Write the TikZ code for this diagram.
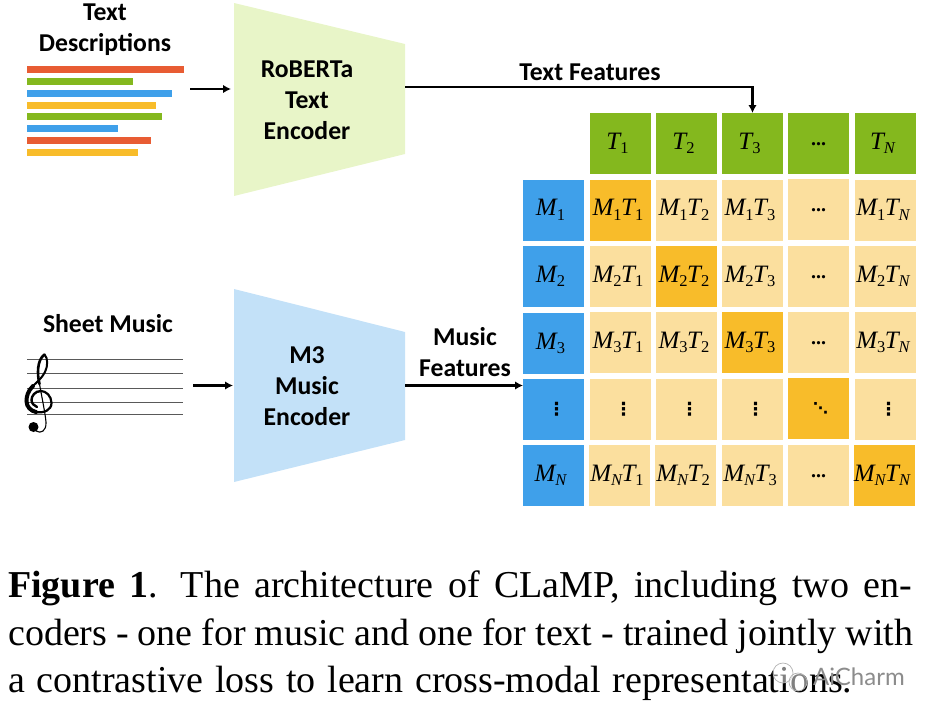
\documentclass[tikz,border=0pt]{standalone}
\usepackage{fontspec}
\setmainfont{Liberation Serif}
\newfontfamily\labelfont{Carlito}
\newfontfamily\markfont{Lato}
\newfontfamily\dotfont{DejaVu Sans}
\usetikzlibrary{arrows.meta}

\definecolor{barred}{HTML}{E85C33}
\definecolor{bargreen}{HTML}{84B81E}
\definecolor{barblue}{HTML}{3FA0EA}
\definecolor{baryellow}{HTML}{F8BC2A}
\definecolor{palecell}{HTML}{FBDF9E}
\definecolor{textenc}{HTML}{E8F5C8}
\definecolor{musicenc}{HTML}{C3E1F8}

% Matrix symbols with subscripts
\newcommand{\subN}{{\itshape N}}
\newcommand{\symb}[2]{{\itshape #1}\raisebox{-4.5pt}{\fontsize{16.5}{16.5}\selectfont #2}}
\newcommand{\one}[2]{\raisebox{-1.5pt}{\symb{#1}{#2}}\hspace*{6pt}}
\newcommand{\pair}[2]{\raisebox{-1.5pt}{\symb{M}{#1}\hspace{-0.5pt}\symb{T}{#2}}\hspace*{5pt}}
\newcommand{\hdots}{\raisebox{-5pt}{\fontsize{20}{20}\selectfont\textbf{...}}}
\newcommand{\vd}{\raisebox{-2pt}{\hspace*{6pt}\dotfont\bfseries\fontsize{18}{18}\selectfont ⋮}}
\newcommand{\dd}{\raisebox{-2pt}{\hspace*{4pt}\dotfont\bfseries\fontsize{15}{15}\selectfont ⋱}}

\tikzset{
  x=1pt, y=-1pt,
  cell/.style={minimum size=61pt, inner sep=0pt, outer sep=0pt, font=\fontsize{25}{25}\selectfont},
  tcell/.style={cell, fill=bargreen},
  mcell/.style={cell, fill=barblue},
  pcell/.style={cell, fill=palecell},
  dcell/.style={cell, fill=baryellow},
  boldlabel/.style={anchor=base, inner sep=0pt, font=\labelfont\bfseries\fontsize{25.7}{25.7}\selectfont},
  captionline/.style={anchor=base west, inner sep=0pt, font=\fontsize{38}{38}\selectfont},
  flow/.style={line width=2.6pt, -{Latex[length=8pt,width=8.5pt]}},
  stave/.style={draw=black!65, line width=1pt},
}

\begin{document}
\begin{tikzpicture}
\useasboundingbox (0,0) rectangle (934,715);

% Encoders
\fill[textenc] (234,3) -- (405,44) -- (405,154) -- (234,196) -- cycle;
\fill[musicenc] (234,289) -- (405,332) -- (405,440) -- (234,482) -- cycle;
\node[boldlabel] (robertaA) at (307,77.5) {RoBERTa};
\node[boldlabel] (robertaB) at (307,108.5) {Text};
\node[boldlabel] (robertaC) at (307,139.5) {Encoder};
\node[boldlabel] (mthreeA) at (307,363.5) {M3};
\node[boldlabel] (mthreeB) at (307,394.5) {Music};
\node[boldlabel] (mthreeC) at (307,425.5) {Encoder};

% Text description stripes
\node[boldlabel] (descA) at (105,20.5) {Text};
\node[boldlabel] (descB) at (105,51.5) {Descriptions};
\fill[barred]    (27,66)  rectangle (184,73);
\fill[bargreen]  (27,78)  rectangle (133,85);
\fill[barblue]   (27,90)  rectangle (172,97);
\fill[baryellow] (27,102) rectangle (156,109);
\fill[bargreen]  (27,113) rectangle (162,120);
\fill[barblue]   (27,125) rectangle (118,132);
\fill[barred]    (27,137) rectangle (151,144);
\fill[baryellow] (27,149) rectangle (138,156);

% Stave with treble clef
\node[boldlabel] (sheet) at (108,332.5) {Sheet Music};
\foreach \ly in {359.5,373.7,388.3,402.3,414.3}
  \draw[stave] (27,\ly) -- (183,\ly);
\draw[line width=1.1pt, line cap=round] (39.5,384) .. controls (42,398) and (45,412) .. (46,422)
  .. controls (46.5,431) and (41,434) .. (36,431);
\fill (33.5,427) circle (5);
\draw[line width=2.6pt, line cap=round] (39.5,384) .. controls (37,374) and (37,360) .. (44.5,354.5);
\draw[line width=2pt, line cap=round] (44.5,354.5) .. controls (48,358) and (48,366) .. (45,372)
  .. controls (42,378) and (37,382) .. (33,386);
\draw[line width=4pt, line cap=round] (33,386) .. controls (28,391) and (26.5,396) .. (26.5,401)
  .. controls (26.5,407) and (31,411) .. (36,412);
\draw[line width=2.2pt, line cap=round] (36,412) .. controls (44,413.5) and (51.5,410) .. (51.5,403)
  .. controls (51.5,396) and (46,391) .. (41,391);
\draw[line width=2.4pt, line cap=round] (41,391) .. controls (35,391) and (31.5,396) .. (31.5,400)
  .. controls (31.5,403) and (34,406) .. (37,407);

% Text feature cells
\node[tcell] (t1) at (620.5,143.5) {\one{T}{1}};
\node[tcell] (t2) at (686.5,143.5) {\one{T}{2}};
\node[tcell] (t3) at (752.5,143.5) {\one{T}{3}};
\node[tcell] (t4) at (818.5,143.5) {\hdots};
\node[tcell] (t5) at (885.5,143.5) {\one{T}{\subN}};

% Music feature cells
\node[mcell] (m1) at (553.5,210) {\one{M}{1}};
\node[mcell] (m2) at (553.5,276.5) {\one{M}{2}};
\node[mcell] (m3) at (553.5,343.5) {\one{M}{3}};
\node[mcell] (m4) at (553.5,409.5) {\vd};
\node[mcell] (m5) at (553.5,475.5) {\one{M}{\subN}};

% Similarity matrix
\node[dcell] (c11) at (620.5,210) {\pair{1}{1}};
\node[pcell] (c12) at (686.5,210) {\pair{1}{2}};
\node[pcell] (c13) at (752.5,210) {\pair{1}{3}};
\node[pcell] (c14) at (818.5,209.5) {\hdots};
\node[pcell] (c15) at (885.5,210) {\pair{1}{\subN}};

\node[pcell] (c21) at (620.5,276.5) {\pair{2}{1}};
\node[dcell] (c22) at (686.5,276.5) {\pair{2}{2}};
\node[pcell] (c23) at (752.5,276.5) {\pair{2}{3}};
\node[pcell] (c24) at (818.5,276.5) {\hdots};
\node[pcell] (c25) at (885.5,276.5) {\pair{2}{\subN}};

\node[pcell] (c31) at (620.5,342.5) {\pair{3}{1}};
\node[pcell] (c32) at (686.5,342.5) {\pair{3}{2}};
\node[dcell] (c33) at (752.5,342.5) {\pair{3}{3}};
\node[pcell] (c34) at (818.5,342.5) {\hdots};
\node[pcell] (c35) at (885.5,342.5) {\pair{3}{\subN}};

\node[pcell] (c41) at (620.5,409.5) {\vd};
\node[pcell] (c42) at (686.5,409.5) {\vd};
\node[pcell] (c43) at (752.5,409.5) {\vd};
\node[dcell] (c44) at (818.5,408.5) {\dd};
\node[pcell] (c45) at (885.5,409.5) {\vd};

\node[pcell] (c51) at (619.5,475.5) {\pair{\subN}{1}};
\node[pcell] (c52) at (685.5,475.5) {\pair{\subN}{2}};
\node[pcell] (c53) at (752.5,475.5) {\pair{\subN}{3}};
\node[pcell] (c54) at (818.5,475.5) {\hdots};
\node[dcell] (c55) at (884.5,475.5) {\pair{\subN}{\subN}};

% Connectors
\coordinate (stripesOut) at (190,89);
\coordinate (textIn) at (231,89);
\coordinate (staveOut) at (193,385.5);
\coordinate (musicIn) at (233,385.5);
\coordinate (textOut) at (405,87);
\coordinate (musicOut) at (405,385.5);
\coordinate (musicEnd) at (m4.west |- musicOut);
\draw[flow] (stripesOut) -- (textIn);
\draw[flow] (staveOut) -- (musicIn);
\draw[flow] (textOut) -| (t3.north);
\draw[flow] (musicOut) -- (musicEnd);
\node[boldlabel] (featT) at (590,80.5) {Text Features};
\node[boldlabel] (featMa) at (465,345) {Music};
\node[boldlabel] (featMb) at (465,376) {Features};

% Caption
\node[captionline] (capA) at (8,597) {\hbox to 904pt{\textbf{Figure 1}.\hspace{0.6em}The architecture of CLaMP, including two en-}};
\node[captionline] (capB) at (8,645) {\hbox to 905pt{coders - one for music and one for text - trained jointly with}};
\node[captionline] (capC) at (8,692) {\hbox to 844pt{a contrastive loss to learn cross-modal representations.}};

% Publisher mark over the caption
\draw[black!30, fill=white, fill opacity=0.5, line width=0.7pt] (783,673) circle (10);
\draw[black!30, fill=white, fill opacity=0.5, line width=0.7pt] (798,682) circle (9);
\node[anchor=base west, inner sep=0pt, text=black!45, font=\markfont\fontsize{24}{24}\selectfont] (mark) at (813,685) {AiCharm};
\end{tikzpicture}
\end{document}
